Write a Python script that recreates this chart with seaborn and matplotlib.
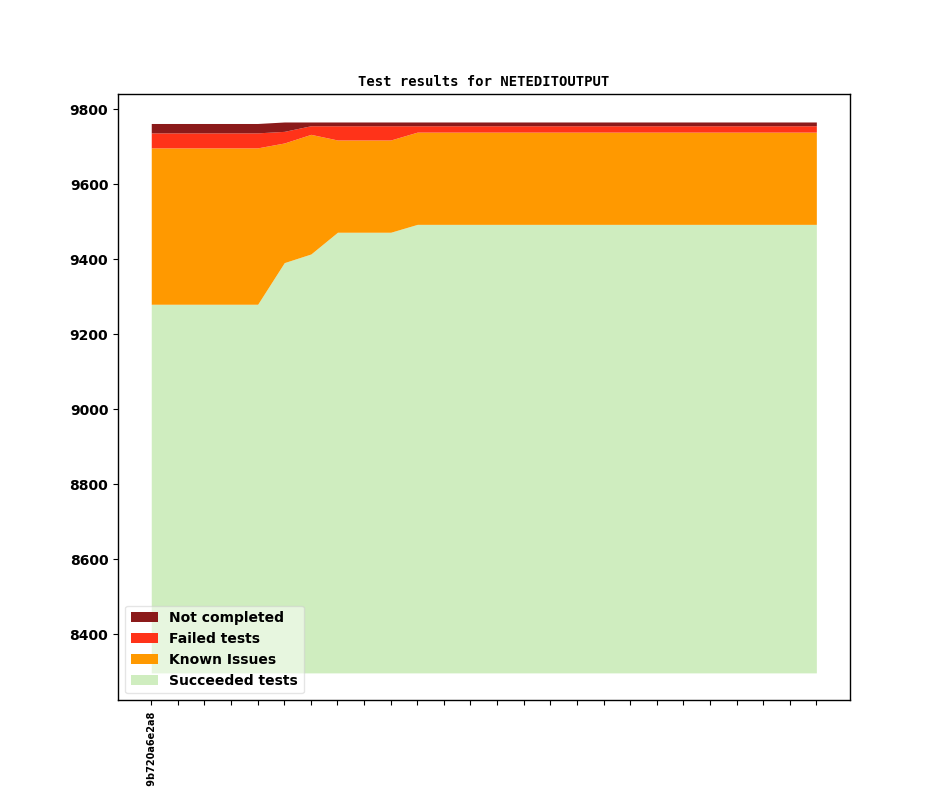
import numpy as np
import pandas as pd
import matplotlib
matplotlib.use("Agg")
import matplotlib.pyplot as plt
import seaborn as sns

# ---- data ----
revisions = ["v1_19_0+0000-9b720a6e2a8"] + [""] * 25
succeeded = [9280, 9280, 9280, 9280, 9280, 9391, 9414, 9472, 9472, 9472] + [9493] * 16
known = [417, 417, 417, 417, 417, 319, 319, 246, 246, 246] + [246] * 16
failed = [40, 40, 40, 40, 40, 31, 23, 38, 38, 38] + [17] * 16
not_completed = [25, 25, 25, 25, 25, 25, 10, 10, 10, 10] + [10] * 16
baseline = 8297

series_names = ["Succeeded tests", "Known Issues", "Failed tests", "Not completed"]
series_colors = ["#cfedbf", "#ff9900", "#ff3319", "#8b1a1a"]

sns.set_style("ticks", {"axes.edgecolor": "black", "xtick.color": "black",
                        "ytick.color": "black", "text.color": "black",
                        "axes.labelcolor": "black"})
plt.rcParams["font.family"] = ["DejaVu Sans"]
plt.rcParams["text.color"] = "black"

df = pd.DataFrame({"idx": np.arange(len(revisions)),
                   "Succeeded tests": succeeded,
                   "Known Issues": known,
                   "Failed tests": failed,
                   "Not completed": not_completed})

fig, ax = plt.subplots(figsize=(9.44, 7.87), dpi=100)

lower = np.full(len(df), float(baseline))
handles = []
for name, col in zip(series_names, series_colors):
    if name == "Succeeded tests":
        upper = df[name].to_numpy(dtype=float)
    else:
        upper = lower + df[name].to_numpy(dtype=float)
    h = ax.fill_between(df["idx"], lower, upper, color=col, linewidth=0, label=name)
    handles.append(h)
    lower = upper

ax.set_xticks(df["idx"])
ax.set_xticklabels(revisions, rotation=90, fontsize=7, fontweight="bold", color="black")
for lbl in ax.get_yticklabels():
    lbl.set_fontweight("bold")
    lbl.set_color("black")
ax.tick_params(axis="y", labelsize=10)
ax.set_title("Test results for NETEDITOUTPUT", fontsize=10, fontweight="bold",
             family="DejaVu Sans Mono", color="black")

leg = ax.legend(handles[::-1], series_names[::-1], loc="lower left",
                prop={"weight": "bold", "size": 10}, framealpha=0.5)
for t in leg.get_texts():
    t.set_color("black")

for s in ax.spines.values():
    s.set_visible(True)
    s.set_linewidth(1.0)

fig.subplots_adjust(left=0.125, right=0.9, top=0.88, bottom=0.11)
fig.savefig("out.png", dpi=100)
